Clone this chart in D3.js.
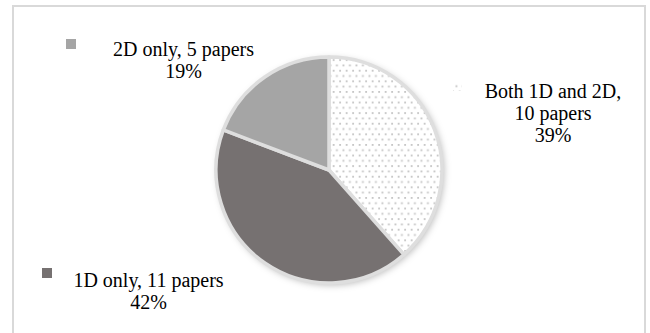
<!DOCTYPE html>
<html>
<head>
<meta charset="utf-8">
<script src="https://cdn.jsdelivr.net/npm/d3@7"></script>
<style>
  html, body { margin: 0; padding: 0; background: #fff; }
  svg { display: block; }
  text { font-family: "Liberation Serif", "Times New Roman", serif; fill: #000; }
</style>
</head>
<body>
<svg id="chart" width="650" height="333"></svg>
<script>
// Papers grouped by the kind of analysis they use
const categories = ["Both 1D and 2D", "1D only", "2D only"];
const papers = [10, 11, 5];
const percentLabels = ["39%", "42%", "19%"];
const labelLines = [
  ["Both 1D and 2D,", "10 papers", "39%"],
  ["1D only, 11 papers", "42%"],
  ["2D only, 5 papers", "19%"]
];

const W = 650, H = 333;
const svg = d3.select("#chart");

// Slice fills
const fills = ["url(#dots)", "#767171", "#a5a5a5"];

const defs = svg.append("defs");

// Sparse dot texture for the first slice
const pat = defs.append("pattern")
  .attr("id", "dots")
  .attr("patternUnits", "userSpaceOnUse")
  .attr("width", 6.5).attr("height", 10.6);
pat.append("rect").attr("width", 6.5).attr("height", 10.6).attr("fill", "#fff");
pat.append("rect").attr("x", 0.5).attr("y", 0.5).attr("width", 1.8).attr("height", 1.8).attr("fill", "#c4c4c4");
pat.append("rect").attr("x", 3.75).attr("y", 5.8).attr("width", 1.8).attr("height", 1.8).attr("fill", "#c4c4c4");

// Soft shadow under the pie
const f = defs.append("filter").attr("id", "shadow")
  .attr("x", "-20%").attr("y", "-20%").attr("width", "140%").attr("height", "140%");
f.append("feDropShadow")
  .attr("dx", 2).attr("dy", 2).attr("stdDeviation", 3.5)
  .attr("flood-color", "#000").attr("flood-opacity", 0.28);

// Outer frame
svg.append("rect")
  .attr("x", 13).attr("y", 6)
  .attr("width", 632).attr("height", 334)
  .attr("fill", "#fff")
  .attr("stroke", "#d9d9d9").attr("stroke-width", 2);

// Pie
const cx = 329, cy = 170, r = 113;
const pie = d3.pie().sort(null).value(d => d);
const arc = d3.arc().innerRadius(0).outerRadius(r);
const arcs = pie(papers);

const g = svg.append("g").attr("transform", `translate(${cx},${cy})`);
g.append("g").attr("filter", "url(#shadow)")
  .selectAll("path").data(arcs).join("path")
  .attr("d", arc)
  .attr("fill", (d, i) => fills[i]);
g.append("g")
  .selectAll("path").data(arcs).join("path")
  .attr("d", arc)
  .attr("fill", (d, i) => fills[i])
  .attr("stroke", "#dedede")
  .attr("stroke-width", 3.5)
  .attr("stroke-linejoin", "round");

// Data labels with legend keys
const labelLayout = [
  { key: [453, 82, 9], x: 553, y: 98 },
  { key: [42, 268, 10], x: 148.5, y: 287 },
  { key: [66, 39, 10], x: 183.5, y: 56 }
];
const lineH = 22;

labelLayout.forEach((L, i) => {
  svg.append("rect")
    .attr("x", L.key[0]).attr("y", L.key[1])
    .attr("width", L.key[2]).attr("height", L.key[2])
    .attr("fill", fills[i]);
  const t = svg.append("text")
    .attr("text-anchor", "middle")
    .attr("font-size", 20);
  labelLines[i].forEach((line, j) => {
    t.append("tspan").attr("x", L.x).attr("y", L.y + j * lineH).text(line);
  });
});
</script>
</body>
</html>
